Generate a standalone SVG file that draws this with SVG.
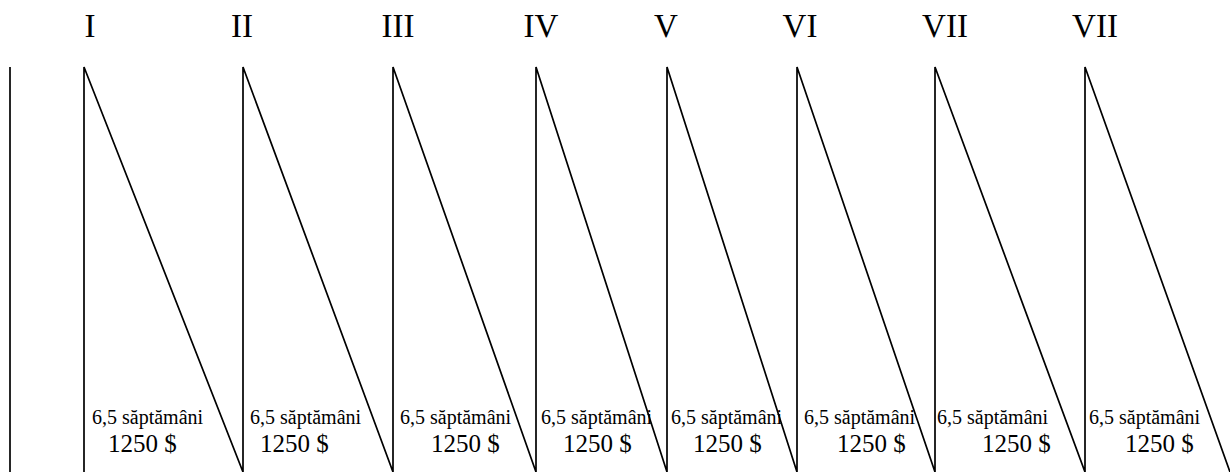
<svg xmlns="http://www.w3.org/2000/svg" width="1230" height="472" viewBox="0 0 1230 472">
<style>
.ln{stroke:#000;stroke-width:1.7;fill:none}
.num{font-family:"Liberation Serif","Times New Roman",serif;font-size:33px;fill:#000;text-anchor:middle}
.wk{font-family:"Liberation Serif","Times New Roman",serif;font-size:20px;fill:#000}
.pr{font-family:"Liberation Serif","Times New Roman",serif;font-size:25px;fill:#000}
</style>
<rect width="1230" height="472" fill="#fff"/>
<g id="axis"><line class="ln" x1="10" y1="67" x2="10" y2="472"/></g>
<g id="connectors">
<path class="ln" d="M84,472 V67 L243,472 V67 L393,472 V67 L536,472 V67 L667,472 V67 L797,472 V67 L935,472 V67 L1085,472 V67 L1230,472"/>
</g>
<g id="p1"><text class="num" x="90" y="37">I</text><text class="wk" x="92" y="424">6,5 săptămâni</text><text class="pr" x="108" y="452">1250 $</text></g>
<g id="p2"><text class="num" x="242" y="37">II</text><text class="wk" x="250" y="424">6,5 săptămâni</text><text class="pr" x="260" y="452">1250 $</text></g>
<g id="p3"><text class="num" x="398" y="37">III</text><text class="wk" x="400" y="424">6,5 săptămâni</text><text class="pr" x="431" y="452">1250 $</text></g>
<g id="p4"><text class="num" x="541" y="37">IV</text><text class="wk" x="541" y="424">6,5 săptămâni</text><text class="pr" x="563" y="452">1250 $</text></g>
<g id="p5"><text class="num" x="666" y="37">V</text><text class="wk" x="671" y="424">6,5 săptămâni</text><text class="pr" x="693" y="452">1250 $</text></g>
<g id="p6"><text class="num" x="800" y="37">VI</text><text class="wk" x="804" y="424">6,5 săptămâni</text><text class="pr" x="837" y="452">1250 $</text></g>
<g id="p7"><text class="num" x="945" y="37">VII</text><text class="wk" x="937" y="424">6,5 săptămâni</text><text class="pr" x="982" y="452">1250 $</text></g>
<g id="p8"><text class="num" x="1095" y="37">VII</text><text class="wk" x="1089" y="424">6,5 săptămâni</text><text class="pr" x="1125" y="452">1250 $</text></g>
</svg>
